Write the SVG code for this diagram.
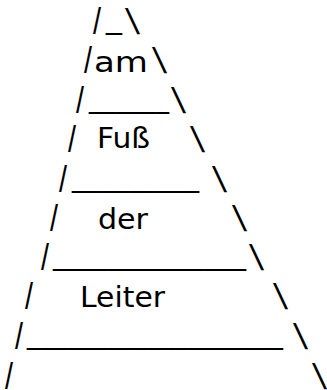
<svg xmlns="http://www.w3.org/2000/svg" width="327" height="390" viewBox="0 0 327 390">
<style>
text{fill:#000;font-family:"DejaVu Sans","Liberation Sans",sans-serif}
.s{font-family:"Liberation Sans","DejaVu Sans",sans-serif;font-size:36px}
.w{font-size:28px}
.u{font-family:"Liberation Sans","DejaVu Sans",sans-serif;font-size:29px}
</style>
<rect width="327" height="390" fill="#fff"/>
<g id="line1">
<text class="s" x="93" y="34" textLength="8" lengthAdjust="spacingAndGlyphs">/</text>
<text class="u" x="106" y="29" textLength="16" lengthAdjust="spacingAndGlyphs">_</text>
<text class="s" transform="translate(130,34) skewX(11)">\</text>
</g>
<g id="line2">
<text class="s" x="84" y="73" textLength="8" lengthAdjust="spacingAndGlyphs">/</text>
<text class="w" x="94" y="72" textLength="54" lengthAdjust="spacingAndGlyphs">am</text>
<text class="s" transform="translate(157,73) skewX(11)">\</text>
</g>
<g id="line3">
<text class="s" x="76" y="113" textLength="8" lengthAdjust="spacingAndGlyphs">/</text>
<text class="u" x="89" y="108" textLength="80" lengthAdjust="spacingAndGlyphs">______</text>
<text class="s" transform="translate(176,113) skewX(11)">\</text>
</g>
<g id="line4">
<text class="s" x="68" y="152" textLength="8" lengthAdjust="spacingAndGlyphs">/</text>
<text class="w" x="97" y="148" textLength="53" lengthAdjust="spacingAndGlyphs">Fuß</text>
<text class="s" transform="translate(195,152) skewX(11)">\</text>
</g>
<g id="line5">
<text class="s" x="59" y="192" textLength="8" lengthAdjust="spacingAndGlyphs">/</text>
<text class="u" x="72" y="187" textLength="127" lengthAdjust="spacingAndGlyphs">_________</text>
<text class="s" transform="translate(217,192) skewX(11)">\</text>
</g>
<g id="line6">
<text class="s" x="50" y="231" textLength="8" lengthAdjust="spacingAndGlyphs">/</text>
<text class="w" x="98" y="229" textLength="50" lengthAdjust="spacingAndGlyphs">der</text>
<text class="s" transform="translate(237,231) skewX(11)">\</text>
</g>
<g id="line7">
<text class="s" x="41" y="270" textLength="8" lengthAdjust="spacingAndGlyphs">/</text>
<text class="u" x="53" y="265" textLength="193" lengthAdjust="spacingAndGlyphs">______________</text>
<text class="s" transform="translate(254,270) skewX(11)">\</text>
</g>
<g id="line8">
<text class="s" x="25" y="309" textLength="8" lengthAdjust="spacingAndGlyphs">/</text>
<text class="w" x="80" y="307" textLength="85" lengthAdjust="spacingAndGlyphs">Leiter</text>
<text class="s" transform="translate(278,309) skewX(11)">\</text>
</g>
<g id="line9">
<text class="s" x="15" y="349" textLength="8" lengthAdjust="spacingAndGlyphs">/</text>
<text class="u" x="27" y="344" textLength="256" lengthAdjust="spacingAndGlyphs">___________________</text>
<text class="s" transform="translate(298,349) skewX(11)">\</text>
</g>
<g id="line10">
<text class="s" x="5" y="389" textLength="8" lengthAdjust="spacingAndGlyphs">/</text>
<text class="s" transform="translate(317,389) skewX(11)">\</text>
</g>
</svg>
